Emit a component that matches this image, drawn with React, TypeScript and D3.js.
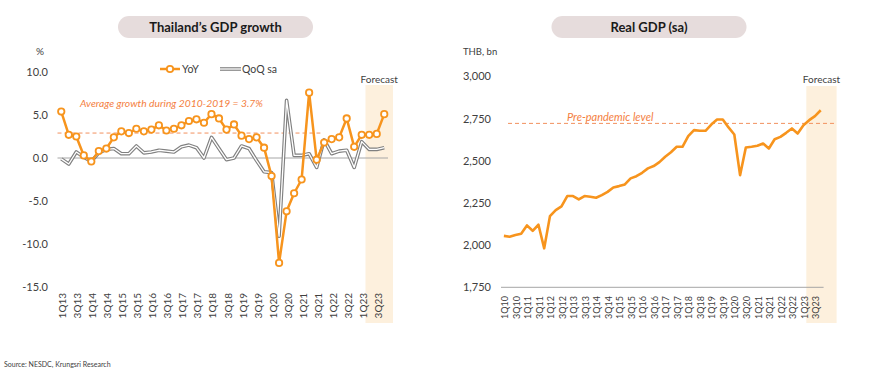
import React from "react";
import { scaleLinear, scalePoint, line } from "d3";

const years13 = ["13", "14", "15", "16", "17", "18", "19", "20", "21", "22", "23"];
const years10 = ["10", "11", "12", ...years13];
const quarters = ["1Q", "2Q", "3Q", "4Q"];

// Thailand's GDP growth, 1Q13 - 4Q23 (%)
const yoyGrowth = [
  5.4, 2.7, 2.5, 0.3, -0.4, 0.8, 1.1, 2.4, 3.1, 2.9, 3.4, 3.1, 3.3, 3.8, 3.2,
  3.4, 3.8, 4.3, 4.5, 4.1, 5.1, 4.6, 3.3, 3.9, 2.6, 2.2, 2.4, 1.2, -2.1, -12.2,
  -6.2, -4.1, -2.5, 7.6, -0.2, 1.8, 2.2, 2.4, 4.6, 1.3, 2.7, 2.7, 2.8, 5.1,
];
const qoqGrowth = [
  -0.1, -0.7, 0.7, 0.1, -0.4, 0.6, 1.0, 1.1, 0.5, 0.5, 1.4, 0.6, 0.7, 0.9, 0.8,
  0.7, 1.3, 1.5, 1.2, 0.0, 2.4, 1.1, -0.2, 0.0, 1.4, 1.1, -0.3, -1.6, -1.7,
  -9.1, 6.7, 0.3, 0.3, 0.5, -1.1, 2.1, 0.5, 0.8, 0.9, -1.1, 1.9, 1.0, 1.0, 1.2,
];
const growthTicks = [10, 5, 0, -5, -10, -15];
const avgGrowthLine = 2.9;

// Real GDP (sa), 1Q10 - 4Q23 (THB bn)
const realGdp = [
  2055, 2050, 2060, 2068, 2117, 2085, 2121, 1981, 2172, 2208, 2230, 2291, 2291,
  2271, 2291, 2287, 2281, 2297, 2316, 2342, 2350, 2360, 2396, 2409, 2429, 2455,
  2469, 2492, 2524, 2551, 2583, 2583, 2646, 2682, 2678, 2678, 2715, 2745, 2745,
  2698, 2656, 2415, 2579, 2583, 2589, 2603, 2573, 2628, 2642, 2666, 2692, 2662,
  2711, 2741, 2765, 2800,
];
const gdpTicks = [3000, 2750, 2500, 2250, 2000, 1750];
const prePandemicLevel = 2722;
const forecastStart = "2Q23";

const leftCats = years13.flatMap((y) => quarters.map((q) => q + y));
const rightCats = years10.flatMap((y) => quarters.map((q) => q + y));

const font = "Lato, 'Open Sans', sans-serif";
const orange = "#F7941D";
const dashColor = "#F2905E";
const noteColor = "#F47E3E";
const textColor = "#404040";
const shadeColor = "#FDF0DD";

const xLeft = scalePoint().domain(leftCats).range([57.5, 388]).padding(0.5);
const yLeft = scaleLinear().domain([-15, 10]).range([287, 72]);
const xRight = scalePoint().domain(rightCats).range([501, 823.6]).padding(0.5);
const yRight = scaleLinear().domain([1750, 3000]).range([287.3, 76.5]);

function TitlePill({ cx, text }: { cx: number; text: string }) {
  return (
    <g>
      <rect x={cx - 97.5} y={16} width={195} height={22} rx={11} fill="#E6DCDC" />
      <text
        x={cx}
        y={31.5}
        textAnchor="middle"
        fontSize={13}
        fontWeight="bold"
        fill="#1a1a1a"
      >
        {text}
      </text>
    </g>
  );
}

function GrowthChart() {
  const step = xLeft.step();
  const yoyLine = line<number>()
    .x((_, i) => xLeft(leftCats[i])!)
    .y((d) => yLeft(d));
  const qoqLine = line<number>()
    .x((_, i) => xLeft(leftCats[i])!)
    .y((d) => yLeft(d));
  const shadeX = xLeft(forecastStart)! - step / 2;
  const [x0, x1] = xLeft.range();
  return (
    <g>
      <TitlePill cx={215.5} text="Thailand’s GDP growth" />
      <rect x={shadeX} y={85} width={x1 + 5 - shadeX} height={238} fill={shadeColor} />
      <text x={shadeX + (x1 + 5 - shadeX) / 2} y={83} textAnchor="middle" fontSize={10} fill={textColor}>
        Forecast
      </text>
      <text x={36} y={55} fontSize={10} fill={textColor}>%</text>
      {growthTicks.map((t) => (
        <text key={t} x={48} y={yLeft(t)} dy="0.35em" textAnchor="end" fontSize={11} fill={textColor}>
          {t.toFixed(1)}
        </text>
      ))}
      <line x1={x0} x2={x1} y1={yLeft(0)} y2={yLeft(0)} stroke="#A6A6A6" strokeWidth={1} />
      <line
        x1={x0}
        x2={xLeft("3Q21")! + step / 2}
        y1={yLeft(avgGrowthLine)}
        y2={yLeft(avgGrowthLine)}
        stroke={dashColor}
        strokeWidth={1}
        strokeDasharray="4,3"
      />
      <text x={80} y={107} fontSize={10.3} fontStyle="italic" fill={noteColor}>
        Average growth during 2010-2019 = 3.7%
      </text>
      <path d={qoqLine(qoqGrowth)!} fill="none" stroke="#808080" strokeWidth={3.6} strokeLinejoin="round" />
      <path d={qoqLine(qoqGrowth)!} fill="none" stroke="#ffffff" strokeWidth={1.3} strokeLinejoin="round" />
      <path d={yoyLine(yoyGrowth)!} fill="none" stroke={orange} strokeWidth={2.5} strokeLinejoin="round" />
      {yoyGrowth.map((d, i) => (
        <circle key={i} cx={xLeft(leftCats[i])} cy={yLeft(d)} r={3.2} fill="#fff" stroke={orange} strokeWidth={1.8} />
      ))}
      {leftCats.filter((_, i) => i % 2 === 0).map((c) => (
        <text
          key={c}
          transform={`translate(${xLeft(c)! + 1.5},293) rotate(-90)`}
          dy="0.35em"
          textAnchor="end"
          fontSize={10}
          fill={textColor}
        >
          {c}
        </text>
      ))}
      {/* legend */}
      <line x1={160} x2={180} y1={69} y2={69} stroke={orange} strokeWidth={2.5} />
      <circle cx={170} cy={69} r={3.2} fill="#fff" stroke={orange} strokeWidth={1.8} />
      <text x={182} y={69} dy="0.35em" fontSize={10.5} fill={textColor}>YoY</text>
      <line x1={220} x2={241} y1={69} y2={69} stroke="#808080" strokeWidth={3.6} />
      <line x1={220} x2={241} y1={69} y2={69} stroke="#fff" strokeWidth={1.3} />
      <text x={242} y={69} dy="0.35em" fontSize={10.5} fill={textColor}>QoQ sa</text>
    </g>
  );
}

function RealGdpChart() {
  const step = xRight.step();
  const gdpLine = line<number>()
    .x((_, i) => xRight(rightCats[i])!)
    .y((d) => yRight(d));
  const shadeX = xRight(forecastStart)! - step / 2;
  const [x0, x1] = xRight.range();
  const shadeEnd = x1 + 13;
  return (
    <g>
      <TitlePill cx={649} text="Real GDP (sa)" />
      <rect x={shadeX} y={86} width={shadeEnd - shadeX} height={237} fill={shadeColor} />
      <text x={(shadeX + shadeEnd) / 2} y={83} textAnchor="middle" fontSize={10} fill={textColor}>
        Forecast
      </text>
      <text x={463} y={55} fontSize={9.5} fill={textColor}>THB, bn</text>
      {gdpTicks.map((t) => (
        <text key={t} x={491} y={yRight(t)} dy="0.35em" textAnchor="end" fontSize={11} fill={textColor}>
          {t.toLocaleString("en-US")}
        </text>
      ))}
      <line x1={x0} x2={x1} y1={yRight(1750)} y2={yRight(1750)} stroke="#A6A6A6" strokeWidth={1} />
      <line
        x1={x0 + 7}
        x2={shadeEnd}
        y1={yRight(prePandemicLevel)}
        y2={yRight(prePandemicLevel)}
        stroke={dashColor}
        strokeWidth={1}
        strokeDasharray="4,3"
      />
      <text x={567} y={121} fontSize={11} fontStyle="italic" fill={noteColor}>
        Pre-pandemic level
      </text>
      <path d={gdpLine(realGdp)!} fill="none" stroke={orange} strokeWidth={2.6} strokeLinejoin="round" />
      {rightCats.filter((_, i) => i % 2 === 0).map((c) => (
        <text
          key={c}
          transform={`translate(${xRight(c)! + 1},296) rotate(-90)`}
          dy="0.35em"
          textAnchor="end"
          fontSize={9}
          fill={textColor}
        >
          {c}
        </text>
      ))}
    </g>
  );
}

export default function App() {
  return (
    <div style={{ position: "absolute", left: 0, top: 0, background: "#fff" }}>
      <svg width={870} height={386} style={{ display: "block", fontFamily: font }}>
        <rect width={870} height={386} fill="#fff" />
        <GrowthChart />
        <RealGdpChart />
        <text x={4} y={367} fontSize={7} fill={textColor}>
          Source: NESDC, Krungsri Research
        </text>
      </svg>
    </div>
  );
}
